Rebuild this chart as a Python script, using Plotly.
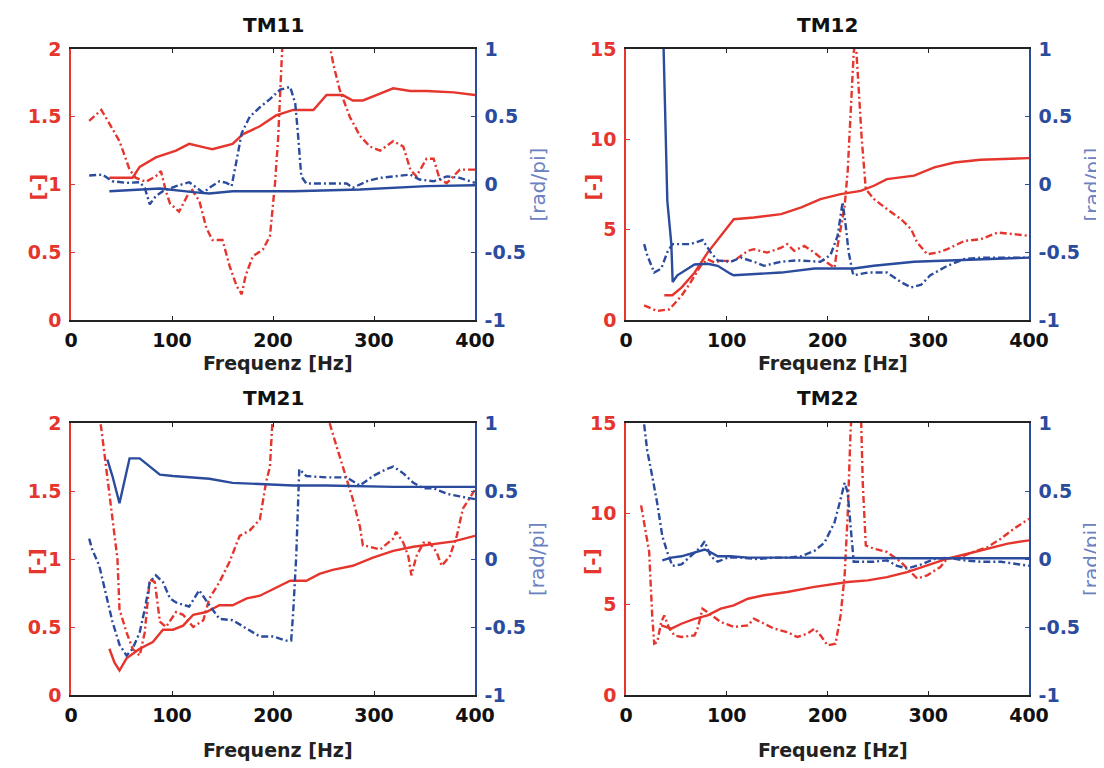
import plotly.graph_objects as go

# ---------------- data ----------------
titles = ["TM11", "TM12", "TM21", "TM22"]
x_ticks = [0, 100, 200, 300, 400]
mag_ticks_small = [0, 0.5, 1, 1.5, 2]
mag_ticks_small_text = ["0", "0.5", "1", "1.5", "2"]
mag_ticks_large = [0, 5, 10, 15]
mag_ticks_large_text = ["0", "5", "10", "15"]
phase_ticks = [-1, -0.5, 0, 0.5, 1]
phase_ticks_text = ["-1", "-0.5", "0", "0.5", "1"]

# TM11
tm11_mag_f = [38, 61, 68, 84, 104, 117, 134, 140, 160, 170, 187, 203, 220, 240, 253, 269, 279, 289, 306, 319, 336, 352, 379, 400]
tm11_mag_v = [1.05, 1.05, 1.13, 1.2, 1.25, 1.3, 1.27, 1.26, 1.3, 1.37, 1.43, 1.51, 1.55, 1.55, 1.66, 1.66, 1.62, 1.62, 1.67, 1.71, 1.69, 1.69, 1.68, 1.66]
tm11_magd_f = [18, 30, 38, 48, 58, 64, 74, 84, 89, 94, 98, 107, 114, 119, 127, 134, 140, 150, 157, 164, 169, 173, 180, 190, 197, 202, 205, 208, 210, 214, 233, 253, 256, 260, 266, 276, 286, 296, 306, 319, 329, 336, 342, 352, 359, 365, 372, 385, 400]
tm11_magd_v = [1.47, 1.55, 1.45, 1.32, 1.11, 1.05, 1.02, 1.06, 1.1, 0.95, 0.86, 0.8, 0.9, 0.97, 0.88, 0.68, 0.59, 0.59, 0.4, 0.25, 0.19, 0.33, 0.47, 0.52, 0.62, 1.01, 1.33, 1.83, 2.03, 2.8, 4.0, 2.6, 2.03, 1.88, 1.7, 1.5, 1.36, 1.28, 1.25, 1.32, 1.28, 1.11, 1.06, 1.19, 1.19, 1.04, 1.01, 1.11, 1.11]
tm11_ph_f = [38, 88, 121, 137, 160, 220, 286, 319, 352, 400]
tm11_ph_v = [-0.05, -0.03, -0.056, -0.066, -0.05, -0.05, -0.037, -0.024, -0.012, -0.005]
tm11_phd_f = [18, 31, 41, 55, 68, 73, 78, 84, 91, 104, 117, 124, 131, 137, 147, 154, 159, 164, 169, 177, 187, 197, 207, 217, 222, 225, 228, 233, 253, 273, 279, 293, 306, 319, 336, 345, 359, 372, 385, 400]
tm11_phd_v = [0.066, 0.073, 0.024, 0.012, 0.017, -0.024, -0.146, -0.085, -0.049, -0.012, 0.017, -0.024, -0.061, -0.024, 0.024, 0.012, -0.012, 0.18, 0.38, 0.5, 0.57, 0.63, 0.7, 0.72, 0.6, 0.35, 0.06, 0.007, 0.007, 0.007, -0.024, 0.024, 0.049, 0.061, 0.073, 0.037, 0.024, 0.06, 0.049, 0.012]

# TM12
tm12_mag_f = [38, 46, 55, 68, 81, 94, 107, 127, 154, 174, 193, 213, 233, 246, 259, 286, 306, 326, 352, 400]
tm12_mag_v = [1.37, 1.37, 1.79, 2.62, 3.73, 4.66, 5.58, 5.67, 5.86, 6.23, 6.69, 6.97, 7.15, 7.43, 7.8, 7.99, 8.45, 8.72, 8.87, 8.96]
tm12_magd_f = [18, 31, 43, 55, 64, 74, 81, 88, 94, 107, 121, 127, 140, 154, 160, 167, 177, 187, 197, 207, 210, 217, 220, 223, 226, 228, 231, 234, 238, 246, 259, 273, 283, 289, 299, 309, 319, 336, 352, 369, 385, 400]
tm12_magd_v = [0.81, 0.5, 0.59, 1.33, 2.07, 3.0, 3.36, 3.18, 3.27, 3.27, 3.83, 3.92, 3.73, 4.0, 4.2, 3.83, 4.1, 3.73, 3.27, 2.9, 4.1, 6.3, 8.2, 11.9, 14.8, 15.5, 12.6, 10.0, 7.25, 6.7, 6.14, 5.58, 5.03, 4.29, 3.64, 3.73, 3.92, 4.38, 4.47, 4.84, 4.75, 4.66]
tm12_ph_f = [37, 41, 45, 46.3, 51, 68, 81, 91, 104, 107, 154, 187, 226, 246, 286, 319, 352, 400]
tm12_ph_v = [1.1, -0.12, -0.44, -0.72, -0.67, -0.59, -0.585, -0.6, -0.66, -0.67, -0.65, -0.62, -0.62, -0.6, -0.57, -0.56, -0.55, -0.54]
tm12_phd_f = [18, 21, 28, 35, 41, 46, 64, 76, 84, 91, 104, 114, 127, 137, 154, 170, 193, 203, 210, 215, 218, 221, 225, 226, 240, 259, 273, 283, 293, 302, 319, 336, 352, 400]
tm12_phd_v = [-0.44, -0.52, -0.65, -0.62, -0.5, -0.44, -0.44, -0.41, -0.5, -0.56, -0.57, -0.54, -0.57, -0.6, -0.57, -0.56, -0.57, -0.52, -0.38, -0.13, -0.3, -0.5, -0.65, -0.67, -0.65, -0.65, -0.72, -0.76, -0.74, -0.67, -0.6, -0.55, -0.54, -0.54]

# TM21
tm21_mag_f = [38, 43, 48, 55, 68, 81, 91, 101, 111, 121, 134, 147, 160, 174, 187, 200, 217, 233, 246, 259, 279, 299, 319, 339, 359, 379, 400]
tm21_mag_v = [0.34, 0.24, 0.18, 0.27, 0.34, 0.39, 0.48, 0.48, 0.51, 0.59, 0.61, 0.66, 0.66, 0.71, 0.73, 0.78, 0.84, 0.84, 0.89, 0.92, 0.95, 1.01, 1.06, 1.09, 1.11, 1.13, 1.17]
tm21_magd_f = [27, 30, 35, 41, 46, 48, 55, 61, 68, 73, 78, 83, 88, 94, 104, 111, 121, 131, 137, 147, 157, 167, 177, 187, 193, 197, 200, 203, 253, 256, 260, 269, 279, 286, 289, 296, 306, 319, 322, 329, 334, 337, 342, 349, 355, 362, 367, 375, 382, 388, 400]
tm21_magd_v = [2.1, 1.96, 1.66, 1.32, 1.0, 0.63, 0.46, 0.34, 0.29, 0.46, 0.85, 0.83, 0.54, 0.5, 0.61, 0.59, 0.5, 0.55, 0.71, 0.83, 0.98, 1.17, 1.21, 1.29, 1.56, 1.68, 2.0, 2.5, 2.5, 2.0, 1.9, 1.68, 1.44, 1.24, 1.1, 1.09, 1.07, 1.15, 1.2, 1.12, 1.02, 0.88, 1.02, 1.12, 1.12, 1.05, 0.95, 1.02, 1.17, 1.37, 1.51]
tm21_ph_f = [36, 41, 48, 51, 58, 68, 78, 88, 101, 121, 137, 160, 187, 220, 253, 319, 400]
tm21_ph_v = [0.73, 0.61, 0.41, 0.51, 0.74, 0.74, 0.68, 0.62, 0.61, 0.6, 0.59, 0.56, 0.55, 0.54, 0.54, 0.53, 0.53]
tm21_phd_f = [18, 21, 28, 35, 41, 48, 55, 61, 68, 73, 78, 84, 91, 98, 104, 117, 127, 137, 147, 160, 174, 187, 200, 213, 218, 220, 223, 226, 233, 253, 273, 286, 299, 312, 319, 329, 339, 349, 359, 372, 385, 400]
tm21_phd_v = [0.15, 0.07, -0.05, -0.27, -0.46, -0.63, -0.71, -0.66, -0.54, -0.37, -0.17, -0.12, -0.17, -0.29, -0.32, -0.35, -0.23, -0.34, -0.44, -0.45, -0.51, -0.57, -0.57, -0.6, -0.6, -0.39, 0.02, 0.66, 0.61, 0.6, 0.6, 0.54, 0.61, 0.66, 0.68, 0.63, 0.56, 0.52, 0.52, 0.48, 0.46, 0.44]

# TM22
tm22_mag_f = [35, 45, 55, 68, 81, 94, 107, 121, 137, 160, 187, 207, 220, 240, 259, 279, 299, 319, 339, 359, 379, 400]
tm22_mag_v = [3.84, 3.66, 3.93, 4.2, 4.39, 4.76, 4.94, 5.31, 5.5, 5.68, 5.96, 6.14, 6.23, 6.32, 6.5, 6.78, 7.15, 7.52, 7.79, 8.07, 8.35, 8.53]
tm22_magd_f = [15, 20, 23, 26, 28, 31, 35, 38, 43, 48, 55, 68, 71, 76, 81, 94, 107, 121, 127, 134, 147, 160, 170, 180, 187, 193, 200, 208, 213, 217, 220, 223, 225, 229, 233, 235, 238, 246, 259, 273, 283, 289, 299, 312, 319, 332, 345, 359, 372, 385, 400]
tm22_magd_v = [10.46, 8.99, 7.89, 4.39, 2.83, 2.92, 4.03, 4.39, 3.66, 3.29, 3.2, 3.29, 3.66, 4.76, 4.57, 4.03, 3.75, 3.84, 4.21, 4.03, 3.66, 3.47, 3.2, 3.38, 3.66, 3.29, 2.74, 2.83, 4.39, 6.6, 9.9, 14.7, 16.0, 17.0, 16.0, 11.7, 8.25, 8.07, 7.89, 7.33, 6.78, 6.42, 6.6, 7.06, 7.52, 7.61, 7.89, 8.16, 8.62, 9.17, 9.72]
tm22_ph_f = [36, 45, 55, 68, 78, 84, 91, 104, 121, 154, 220, 286, 352, 400]
tm22_ph_v = [-0.01, 0.01, 0.02, 0.05, 0.07, 0.05, 0.02, 0.02, 0.01, 0.01, 0.005, 0.005, 0.005, 0.005]
tm22_phd_f = [18, 21, 26, 31, 36, 41, 46, 55, 64, 74, 78, 84, 91, 101, 114, 131, 147, 160, 174, 187, 197, 207, 213, 217, 220, 223, 226, 233, 246, 259, 269, 279, 293, 306, 319, 336, 352, 372, 400]
tm22_phd_v = [0.99, 0.8, 0.61, 0.41, 0.17, 0.05, -0.05, -0.04, 0.02, 0.085, 0.13, 0.02, -0.02, 0.01, 0.01, 0.0, 0.01, 0.01, 0.02, 0.06, 0.12, 0.27, 0.44, 0.56, 0.49, 0.2, -0.02, -0.02, -0.02, -0.01, -0.05, -0.07, -0.04, 0.0, 0.01, -0.01, -0.02, -0.02, -0.05]

# ---------------- styling ----------------
PAGE_OFF = 8          # default body margin of the html page
W, H = 1104 - PAGE_OFF, 768 - PAGE_OFF
RED = "#e5352c"
BLUE = "#2b4b9d"
LBLUE = "#6b82c2"
FONT = "DejaVu Sans"
DASHDOT = "7px,3px,2px,3px"


def px_x(x):
    return (x - PAGE_OFF) / W


def px_y(y):
    return 1 - (y - PAGE_OFF) / H


panels = [
    dict(title=titles[0], px=(71, 475), py=(49, 320), mag_range=[0, 2], mt=mag_ticks_small, mtt=mag_ticks_small_text,
         mag=(tm11_mag_f, tm11_mag_v), magd=(tm11_magd_f, tm11_magd_v), ph=(tm11_ph_f, tm11_ph_v), phd=(tm11_phd_f, tm11_phd_v),
         xtitle_y=363, title_y=25),
    dict(title=titles[1], px=(626, 1029), py=(49, 320), mag_range=[0, 15], mt=mag_ticks_large, mtt=mag_ticks_large_text,
         mag=(tm12_mag_f, tm12_mag_v), magd=(tm12_magd_f, tm12_magd_v), ph=(tm12_ph_f, tm12_ph_v), phd=(tm12_phd_f, tm12_phd_v),
         xtitle_y=363, title_y=25),
    dict(title=titles[2], px=(71, 475), py=(423, 695), mag_range=[0, 2], mt=mag_ticks_small, mtt=mag_ticks_small_text,
         mag=(tm21_mag_f, tm21_mag_v), magd=(tm21_magd_f, tm21_magd_v), ph=(tm21_ph_f, tm21_ph_v), phd=(tm21_phd_f, tm21_phd_v),
         xtitle_y=750, title_y=398),
    dict(title=titles[3], px=(626, 1029), py=(423, 695), mag_range=[0, 15], mt=mag_ticks_large, mtt=mag_ticks_large_text,
         mag=(tm22_mag_f, tm22_mag_v), magd=(tm22_magd_f, tm22_magd_v), ph=(tm22_ph_f, tm22_ph_v), phd=(tm22_phd_f, tm22_phd_v),
         xtitle_y=750, title_y=398),
]

fig = go.Figure()
layout = dict(width=W, height=H, autosize=False, margin=dict(l=0, r=0, t=0, b=0, autoexpand=False),
              paper_bgcolor="white", plot_bgcolor="white", showlegend=False)
annotations = []

for i, p in enumerate(panels):
    xi = i + 1
    ya = 2 * i + 1
    yb = 2 * i + 2
    xname = "xaxis" if xi == 1 else f"xaxis{xi}"
    yaname = "yaxis" if ya == 1 else f"yaxis{ya}"
    ybname = f"yaxis{yb}"
    xref = "x" if xi == 1 else f"x{xi}"
    yaref = "y" if ya == 1 else f"y{ya}"
    ybref = f"y{yb}"
    xd = [px_x(p["px"][0]), px_x(p["px"][1])]
    yd = [px_y(p["py"][1]), px_y(p["py"][0])]

    layout[xname] = dict(domain=xd, anchor=yaref, range=[0, 400], tickvals=x_ticks, automargin=False,
                         ticktext=[str(v) for v in x_ticks], ticks="inside", ticklen=4,
                         tickcolor="#222", showline=True, linecolor="#222", linewidth=1.5,
                         mirror="ticks", showgrid=False, zeroline=False,
                         tickfont=dict(family=FONT, size=19, color="#111", weight="bold"),
                         ticklabelstandoff=2)
    layout[yaname] = dict(domain=yd, anchor=xref, range=p["mag_range"], tickvals=p["mt"], automargin=False,
                          ticktext=p["mtt"], ticks="inside", ticklen=4, tickcolor=RED,
                          showline=True, linecolor=RED, linewidth=1.5, showgrid=False,
                          zeroline=False, tickfont=dict(family=FONT, size=19, color=RED, weight="bold"),
                          ticklabelstandoff=4)
    layout[ybname] = dict(domain=yd, anchor=xref, overlaying=yaref, side="right", range=[-1, 1], automargin=False,
                          tickvals=phase_ticks, ticktext=phase_ticks_text, ticks="inside", ticklen=4,
                          tickcolor=BLUE, showline=True, linecolor=BLUE, linewidth=1.5,
                          showgrid=False, zeroline=False,
                          tickfont=dict(family=FONT, size=19, color=BLUE, weight="bold"),
                          ticklabelstandoff=4)

    # traces
    fig.add_trace(go.Scatter(x=p["ph"][0], y=p["ph"][1], mode="lines", xaxis=xref, yaxis=ybref,
                             line=dict(color=BLUE, width=2.4)))
    fig.add_trace(go.Scatter(x=p["phd"][0], y=p["phd"][1], mode="lines", xaxis=xref, yaxis=ybref,
                             line=dict(color=BLUE, width=2.4, dash=DASHDOT)))
    fig.add_trace(go.Scatter(x=p["mag"][0], y=p["mag"][1], mode="lines", xaxis=xref, yaxis=yaref,
                             line=dict(color=RED, width=2.4)))
    fig.add_trace(go.Scatter(x=p["magd"][0], y=p["magd"][1], mode="lines", xaxis=xref, yaxis=yaref,
                             line=dict(color=RED, width=2.4, dash=DASHDOT)))

    cx = (p["px"][0] + p["px"][1]) / 2
    cy = (p["py"][0] + p["py"][1]) / 2
    annotations.append(dict(text="<b>" + p["title"] + "</b>", x=px_x(cx), y=px_y(p["title_y"]),
                            xref="paper", yref="paper", xanchor="center", yanchor="middle",
                            showarrow=False, font=dict(family=FONT, size=20, color="#111")))
    annotations.append(dict(text="<b>Frequenz [Hz]</b>", x=px_x(cx + 5), y=px_y(p["xtitle_y"]),
                            xref="paper", yref="paper", xanchor="center", yanchor="middle",
                            showarrow=False, font=dict(family=FONT, size=19, color="#222")))
    annotations.append(dict(text="<b>[-]</b>", x=px_x(p["px"][0] - 34), y=px_y(cy + 3),
                            xref="paper", yref="paper", xanchor="center", yanchor="middle",
                            textangle=-90, showarrow=False, font=dict(family=FONT, size=20, color=RED)))
    annotations.append(dict(text="[rad/pi]", x=px_x(p["px"][1] + 62), y=px_y(cy),
                            xref="paper", yref="paper", xanchor="center", yanchor="middle",
                            textangle=-90, showarrow=False, font=dict(family=FONT, size=20, color=LBLUE)))

layout["annotations"] = annotations
fig.update_layout(**layout)
fig.write_html("out.html")
